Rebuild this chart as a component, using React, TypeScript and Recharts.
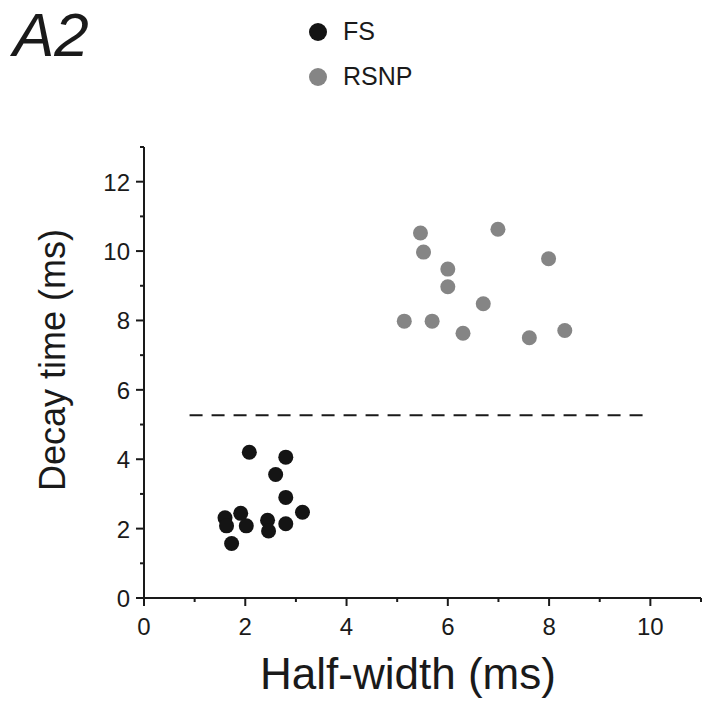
import { ScatterChart, Scatter, XAxis, YAxis, ReferenceLine, Legend, Label } from "recharts";

// FS cells
const fsHalfWidth = [2.08, 2.8, 2.6, 2.8, 3.13, 1.91, 1.6, 1.63, 2.02, 2.44, 2.46, 2.8, 1.73];
const fsDecay = [4.2, 4.06, 3.56, 2.9, 2.47, 2.44, 2.31, 2.08, 2.08, 2.24, 1.93, 2.14, 1.57];

// RSNP cells
const rsnpHalfWidth = [5.46, 5.52, 6.0, 6.0, 6.99, 7.99, 5.14, 5.69, 6.7, 6.3, 7.61, 8.31];
const rsnpDecay = [10.52, 9.97, 9.48, 8.97, 10.63, 9.78, 7.98, 7.98, 8.48, 7.63, 7.5, 7.71];

const xTicks = [0, 1, 2, 3, 4, 5, 6, 7, 8, 9, 10, 11];
const yTicks = [0, 1, 2, 3, 4, 5, 6, 7, 8, 9, 10, 11, 12, 13];

// dashed separator
const dividerX = [0.9, 9.87];
const dividerY = 5.27;

const fsData = fsHalfWidth.map((x, i) => ({ x, y: fsDecay[i] }));
const rsnpData = rsnpHalfWidth.map((x, i) => ({ x, y: rsnpDecay[i] }));

const FONT = '"Liberation Sans", Arial, sans-serif';
const INK = "#1a1a1a";
const FS_COLOR = "#141414";
const RSNP_COLOR = "#858585";

function XTick(props: any) {
  const { x, y, payload } = props;
  const major = payload.value % 2 === 0;
  return (
    <g>
      <line x1={x} y1={y} x2={x} y2={y + (major ? 8 : 4)} stroke={INK} strokeWidth={2} />
      {major && (
        <text x={x} y={y + 37} textAnchor="middle" fontSize={24} fontFamily={FONT} fill={INK}>
          {payload.value}
        </text>
      )}
    </g>
  );
}

function YTick(props: any) {
  const { x, y, payload } = props;
  const major = payload.value % 2 === 0;
  return (
    <g>
      <line x1={x} y1={y} x2={x - (major ? 8 : 4)} y2={y} stroke={INK} strokeWidth={2} />
      {major && (
        <text x={x - 14} y={y + 9} textAnchor="end" fontSize={24} fontFamily={FONT} fill={INK}>
          {payload.value}
        </text>
      )}
    </g>
  );
}

function Dot(color: string) {
  return (p: any) => <circle cx={p.cx} cy={p.cy} r={7.5} fill={color} />;
}

function renderLegend(props: any) {
  const { payload } = props;
  return (
    <div style={{ fontFamily: FONT, fontSize: 25, color: INK }}>
      {payload.map((entry: any) => (
        <div key={entry.value} style={{ display: "flex", alignItems: "center", height: 45 }}>
          <svg width={18} height={18} style={{ marginRight: 16 }}>
            <circle cx={9} cy={9} r={9} fill={entry.color} />
          </svg>
          <span>{entry.value}</span>
        </div>
      ))}
    </div>
  );
}

export default function App() {
  return (
    <div style={{ position: "relative", width: 715, height: 702, background: "#fff" }}>
      <style>{"body{margin:0}"}</style>
      <div
        style={{
          position: "absolute",
          left: 13,
          top: 4,
          fontFamily: FONT,
          fontStyle: "italic",
          fontSize: 62,
          lineHeight: 1,
          color: INK,
        }}
      >
        A2
      </div>
      <ScatterChart width={715} height={702} margin={{ top: 147, right: 14, bottom: 0, left: 0 }}>
        <XAxis
          type="number"
          dataKey="x"
          domain={[0, 11]}
          ticks={xTicks}
          tick={<XTick />}
          tickLine={false}
          tickSize={0}
          tickMargin={0}
          height={104}
          interval={0}
          axisLine={{ stroke: INK, strokeWidth: 2 }}
          allowDataOverflow
        >
          <Label
            content={(p: any) => (
              <text
                x={p.viewBox.x + 264}
                y={p.viewBox.y + 91}
                textAnchor="middle"
                fontSize={44}
                fontFamily={FONT}
                fill={INK}
              >
                Half-width (ms)
              </text>
            )}
          />
        </XAxis>
        <YAxis
          type="number"
          dataKey="y"
          domain={[0, 13]}
          ticks={yTicks}
          tick={<YTick />}
          tickLine={false}
          tickSize={0}
          tickMargin={0}
          width={144}
          interval={0}
          axisLine={{ stroke: INK, strokeWidth: 2 }}
          allowDataOverflow
        >
          <Label
            content={(p: any) => {
              const cx = p.viewBox.x + 65;
              const cy = 360;
              return (
                <text
                  x={cx}
                  y={cy}
                  transform={`rotate(-90, ${cx}, ${cy})`}
                  textAnchor="middle"
                  fontSize={36}
                  fontFamily={FONT}
                  fill={INK}
                >
                  Decay time (ms)
                </text>
              );
            }}
          />
        </YAxis>
        <ReferenceLine
          segment={[
            { x: dividerX[0], y: dividerY },
            { x: dividerX[1], y: dividerY },
          ]}
          stroke={INK}
          strokeWidth={2}
          strokeDasharray="13 9"
          ifOverflow="visible"
        />
        <Scatter name="FS" data={fsData} fill={FS_COLOR} shape={Dot(FS_COLOR)} isAnimationActive={false} />
        <Scatter name="RSNP" data={rsnpData} fill={RSNP_COLOR} shape={Dot(RSNP_COLOR)} isAnimationActive={false} />
        <Legend
          layout="vertical"
          verticalAlign="middle"
          align="center"
          wrapperStyle={{ top: 9, left: 309, width: 160 }}
          content={renderLegend}
        />
      </ScatterChart>
    </div>
  );
}
